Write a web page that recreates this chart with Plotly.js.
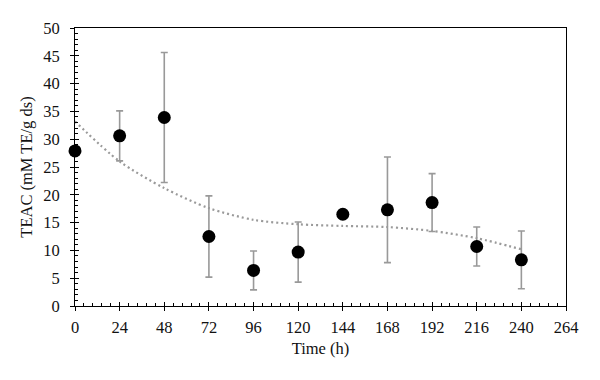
<!DOCTYPE html>
<html>
<head>
<meta charset="utf-8">
<script src="https://cdn.plot.ly/plotly-3.0.1.min.js"></script>
<style>
  html, body { margin: 0; padding: 0; background: #fff; }
  #chart { width: 600px; height: 380px; }
</style>
</head>
<body>
<div id="chart"></div>
<script>
// Sampling times (h)
const timeH = [0, 24, 48, 72, 96, 120, 144, 168, 192, 216, 240];
// Mean TEAC (mM TE/g ds)
const teac = [27.9, 30.6, 33.9, 12.5, 6.4, 9.7, 16.5, 17.3, 18.6, 10.7, 8.3];
// Standard deviation for each mean
const teacSd = [0, 4.5, 11.7, 7.3, 3.5, 5.4, 0, 9.5, 5.2, 3.5, 5.2];
// Trend curve through the series
const trendT = [0, 24, 48, 72, 96, 120, 144, 168, 192, 216, 240];
const trendV = [33.2, 26.0, 21.2, 17.6, 15.5, 14.7, 14.4, 14.2, 13.5, 12.2, 10.2];
// Axis ticks
const xTicks = [0, 24, 48, 72, 96, 120, 144, 168, 192, 216, 240, 264];
const yTicks = [0, 5, 10, 15, 20, 25, 30, 35, 40, 45, 50];

const family = '"Liberation Serif", "DejaVu Serif", serif';
const tickFont = { family: family, size: 16.5, color: '#111' };

const trend = {
  x: trendT, y: trendV,
  mode: 'lines',
  line: { color: '#9a9a9a', width: 2.2, dash: '2px,3px', shape: 'spline', smoothing: 0.8 },
  hoverinfo: 'skip',
  showlegend: false
};

const points = {
  x: timeH, y: teac,
  mode: 'markers',
  marker: { color: '#000', size: 13 },
  error_y: { type: 'data', array: teacSd, visible: true, color: '#999', thickness: 1.6, width: 3.5 },
  cliponaxis: false,
  showlegend: false
};

// Companion trace on the overlay axes carrying the inner half of the ticks
const ghost = {
  x: timeH, y: teac,
  xaxis: 'x2', yaxis: 'y2',
  mode: 'markers',
  marker: { opacity: 0 },
  hoverinfo: 'skip',
  showlegend: false
};

const layout = {
  width: 600, height: 380,
  margin: { l: 75, r: 34, t: 28, b: 74 },
  paper_bgcolor: '#fff',
  plot_bgcolor: '#fff',
  font: tickFont,
  showlegend: false,
  xaxis: {
    range: [0, 264],
    tickvals: xTicks,
    ticks: 'outside', ticklen: 4, tickwidth: 1, tickcolor: '#000',
    showline: true, linecolor: '#000', linewidth: 1, mirror: true,
    showgrid: false, zeroline: false,
    ticklabelstandoff: 2,
    tickfont: tickFont,
    title: { text: 'Time (h)', font: { family: family, size: 16.5, color: '#111' }, standoff: 6 }
  },
  yaxis: {
    range: [0, 50],
    tickvals: yTicks,
    ticks: 'outside', ticklen: 4, tickwidth: 1, tickcolor: '#000',
    showline: true, linecolor: '#000', linewidth: 1, mirror: true,
    showgrid: false, zeroline: false,
    ticklabelstandoff: 7,
    tickfont: tickFont,
    title: { text: 'TEAC (mM TE/g ds)', font: { family: family, size: 16.5, color: '#111' }, standoff: 6 }
  },
  xaxis2: {
    overlaying: 'x', range: [0, 264],
    tickvals: xTicks,
    ticks: 'inside', ticklen: 4, tickwidth: 1, tickcolor: '#000',
    showticklabels: false, showline: false, showgrid: false, zeroline: false,
    minor: { dtick: 4.8, tick0: 0, ticks: 'inside', ticklen: 3, tickwidth: 1, tickcolor: '#000', showgrid: false }
  },
  yaxis2: {
    overlaying: 'y', range: [0, 50],
    tickvals: yTicks,
    ticks: 'inside', ticklen: 4, tickwidth: 1, tickcolor: '#000',
    showticklabels: false, showline: false, showgrid: false, zeroline: false,
    minor: { dtick: 1, tick0: 0, ticks: 'inside', ticklen: 3, tickwidth: 1, tickcolor: '#000', showgrid: false }
  }
};

Plotly.newPlot('chart', [trend, points, ghost], layout, { displayModeBar: false, staticPlot: true });
</script>
</body>
</html>
